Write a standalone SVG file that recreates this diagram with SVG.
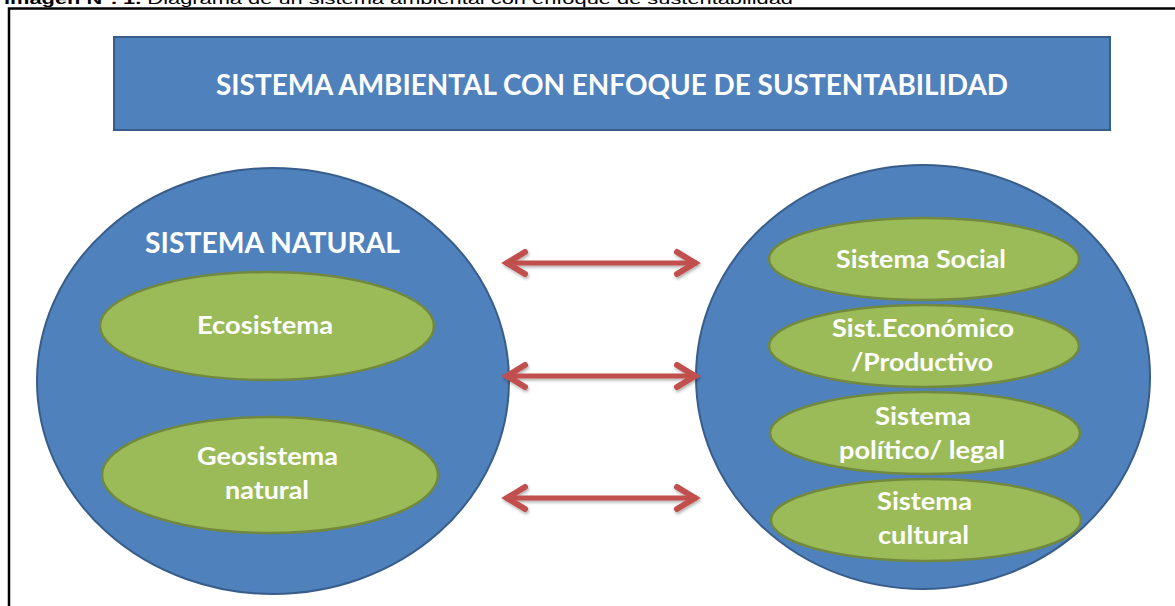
<svg xmlns="http://www.w3.org/2000/svg" width="1175" height="606" viewBox="0 0 1175 606">
<style>
.cap{font-family:"Liberation Sans",Arial,sans-serif;font-size:15px;fill:#000}
.big{fill:#4F81BD;stroke:#385D8A;stroke-width:2}
.grn{fill:#9BBB59;stroke:#71893F;stroke-width:2.5}
.tt{font-family:Lato,"Open Sans",sans-serif;font-weight:bold;fill:#fff;text-anchor:middle}
.t1{font-size:29px}
.t2{font-size:25px}
.arr{stroke:#C0504D;stroke-width:5;fill:none}
</style>
<defs>
<marker id="head" markerUnits="userSpaceOnUse" viewBox="-26 -16 30 32" refX="0" refY="0" markerWidth="30" markerHeight="32" orient="auto-start-reverse">
<path d="M -20 -11 L -2 0 L -20 11" fill="none" stroke="#C0504D" stroke-width="6" stroke-linecap="round" stroke-linejoin="miter"/>
</marker>
<filter id="sh" x="-10%" y="-20%" width="120%" height="150%">
<feDropShadow dx="1" dy="2" stdDeviation="1.5" flood-color="#000" flood-opacity="0.3"/>
</filter>
</defs>
<rect width="1175" height="606" fill="#fff"/>
<text class="cap" x="4" y="4" textLength="789" lengthAdjust="spacingAndGlyphs"><tspan font-weight="bold">Imagen N°. 1.</tspan> Diagrama de un sistema ambiental con enfoque de sustentabilidad</text>
<rect x="9" y="8.5" width="1200" height="700" fill="none" stroke="#000" stroke-width="2.5"/>

<g id="title">
<rect class="big" x="114" y="37" width="996" height="93"/>
<text class="tt t1" x="612" y="95" textLength="792" lengthAdjust="spacingAndGlyphs">SISTEMA AMBIENTAL CON ENFOQUE DE SUSTENTABILIDAD</text>
</g>

<g id="sistema-natural">
<ellipse class="big" cx="273" cy="381" rx="236" ry="213"/>
<text class="tt t1" x="272.5" y="253" textLength="255" lengthAdjust="spacingAndGlyphs">SISTEMA NATURAL</text>
</g>
<g id="ecosistema">
<ellipse class="grn" cx="267" cy="326" rx="167" ry="54"/>
<text class="tt t2" x="265" y="334" textLength="136" lengthAdjust="spacingAndGlyphs">Ecosistema</text>
</g>
<g id="geosistema">
<ellipse class="grn" cx="270" cy="475" rx="168" ry="58"/>
<text class="tt t2" x="267.5" y="465" textLength="141" lengthAdjust="spacingAndGlyphs">Geosistema</text>
<text class="tt t2" x="267" y="499" textLength="84" lengthAdjust="spacingAndGlyphs">natural</text>
</g>

<g id="sistema-humano">
<ellipse class="big" cx="923" cy="377" rx="227" ry="212"/>
</g>
<g id="social">
<ellipse class="grn" cx="924" cy="259" rx="155" ry="41"/>
<text class="tt t2" x="921" y="268" textLength="170" lengthAdjust="spacingAndGlyphs">Sistema Social</text>
</g>
<g id="economico">
<ellipse class="grn" cx="924" cy="346" rx="155" ry="41"/>
<text class="tt t2" x="923" y="337" textLength="182" lengthAdjust="spacingAndGlyphs">Sist.Económico</text>
<text class="tt t2" x="922" y="371" textLength="142" lengthAdjust="spacingAndGlyphs">/Productivo</text>
</g>
<g id="politico">
<ellipse class="grn" cx="925" cy="433" rx="155" ry="41"/>
<text class="tt t2" x="923" y="425" textLength="96" lengthAdjust="spacingAndGlyphs">Sistema</text>
<text class="tt t2" x="922" y="459" textLength="166" lengthAdjust="spacingAndGlyphs">político/ legal</text>
</g>
<g id="cultural">
<ellipse class="grn" cx="926" cy="520" rx="155" ry="41"/>
<text class="tt t2" x="924.5" y="510" textLength="95" lengthAdjust="spacingAndGlyphs">Sistema</text>
<text class="tt t2" x="923.5" y="544" textLength="91" lengthAdjust="spacingAndGlyphs">cultural</text>
</g>

<g id="connectors" filter="url(#sh)">
<line class="arr" x1="505" y1="263" x2="697" y2="263" marker-start="url(#head)" marker-end="url(#head)"/>
<line class="arr" x1="505" y1="376" x2="697" y2="376" marker-start="url(#head)" marker-end="url(#head)"/>
<line class="arr" x1="505" y1="498" x2="697" y2="498" marker-start="url(#head)" marker-end="url(#head)"/>
</g>
</svg>
